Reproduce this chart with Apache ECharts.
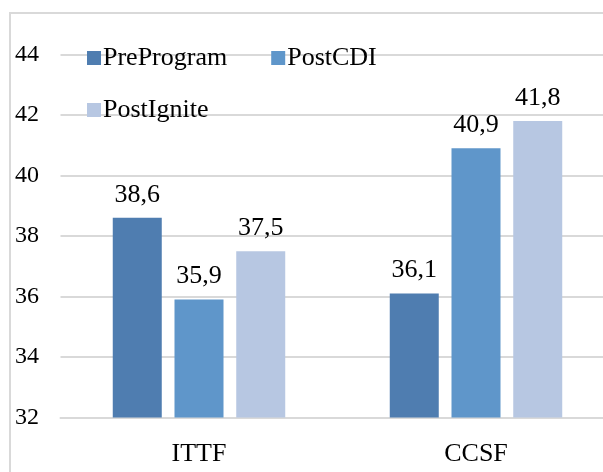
<!DOCTYPE html>
<html>
<head>
<meta charset="utf-8">
<script src="https://cdn.jsdelivr.net/npm/echarts@6/dist/echarts.min.js"></script>
<style>
html,body{margin:0;padding:0;background:#fff;}
#main{width:603px;height:472px;}
</style>
</head>
<body>
<div id="main"></div>
<script>
const categories = ['ITTF', 'CCSF'];
const seriesNames = ['PreProgram', 'PostCDI', 'PostIgnite'];
const preProgram = [38.6, 36.1];
const postCDI = [35.9, 40.9];
const postIgnite = [37.5, 41.8];
const yTicks = [32, 34, 36, 38, 40, 42, 44];

const colors = ['#4f7db0', '#5f96ca', '#b7c7e2'];
const font = 'Liberation Serif';

const chart = echarts.init(document.getElementById('main'));
const labelCfg = {
  show: true,
  position: 'top',
  distance: 10,
  color: '#000',
  fontFamily: font,
  fontSize: 26,
  formatter: p => String(p.value).replace('.', ',')
};
const values = [preProgram, postCDI, postIgnite];
chart.setOption({
  animation: false,
  textStyle: { fontFamily: font },
  graphic: [{
    type: 'rect',
    shape: { x: 10, y: 13, width: 700, height: 600 },
    style: { fill: 'none', stroke: '#d9d9d9', lineWidth: 2 },
    silent: true
  }],
  legend: [{
    data: [seriesNames[0], seriesNames[1]],
    left: 82, top: 40,
    itemWidth: 14, itemHeight: 14, itemGap: 44,
    icon: 'rect',
    textStyle: { fontFamily: font, fontSize: 26, color: '#000', padding: [0, 0, 0, -3] }
  }, {
    data: [seriesNames[2]],
    left: 82, top: 92,
    itemWidth: 14, itemHeight: 14,
    icon: 'rect',
    textStyle: { fontFamily: font, fontSize: 26, color: '#000', padding: [0, 0, 0, -3] }
  }],
  grid: { left: 60.5, top: 54.5, width: 554, height: 363, containLabel: false, outerBoundsMode: 'none' },
  xAxis: {
    type: 'category',
    data: categories,
    axisTick: { show: false },
    axisLine: { lineStyle: { color: '#d9d9d9', width: 2 } },
    axisLabel: { color: '#000', fontFamily: font, fontSize: 26, margin: 24 }
  },
  yAxis: {
    type: 'value',
    min: yTicks[0], max: yTicks[yTicks.length - 1], interval: 2,
    axisLine: { show: false },
    axisTick: { show: false },
    splitLine: { lineStyle: { color: '#d9d9d9', width: 2 } },
    axisLabel: { color: '#000', fontFamily: font, fontSize: 24, margin: 21.5 }
  },
  series: seriesNames.map((n, i) => ({
    name: n,
    type: 'bar',
    data: values[i],
    barWidth: 49,
    barGap: '26%',
    barCategoryGap: '37.5%',
    itemStyle: { color: colors[i] },
    label: labelCfg
  }))
});
</script>
</body>
</html>
